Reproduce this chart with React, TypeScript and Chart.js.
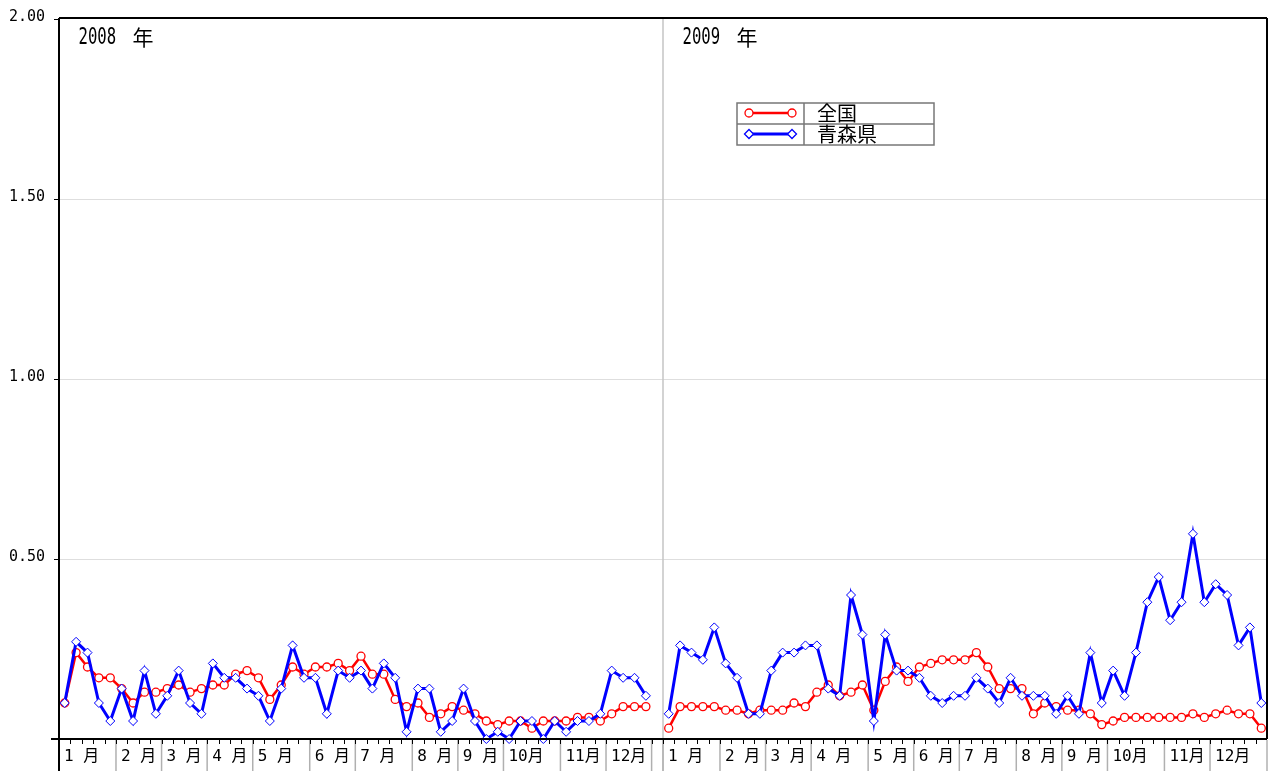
import React, { useEffect, useRef } from "react";
import { Chart, registerables } from "chart.js";

Chart.register(...registerables);

// ---- data ----
const yearLabels = ["2008", "2009"];
const yearSuffix = "年";
const monthLabels = ["1 月", "2 月", "3 月", "4 月", "5 月", "6 月", "7 月", "8 月", "9 月", "10月", "11月", "12月"];
const monthWeeks2008 = [5, 4, 4, 4, 5, 4, 5, 4, 4, 5, 4, 4];
const monthWeeks2009 = [5, 4, 4, 5, 4, 4, 5, 4, 4, 5, 4, 5];
const slotsPerYear = 53;
const yTickValues = [0.5, 1.0, 1.5, 2.0];
const yTickLabels = ["0.50", "1.00", "1.50", "2.00"];
const seriesNames = ["全国", "青森県"];

const national2008 = [
  0.10, 0.24, 0.20, 0.17, 0.17, 0.14, 0.10, 0.13, 0.13, 0.14,
  0.15, 0.13, 0.14, 0.15, 0.15, 0.18, 0.19, 0.17, 0.11, 0.15,
  0.20, 0.18, 0.20, 0.20, 0.21, 0.19, 0.23, 0.18, 0.18, 0.11,
  0.09, 0.10, 0.06, 0.07, 0.09, 0.08, 0.07, 0.05, 0.04, 0.05,
  0.05, 0.03, 0.05, 0.05, 0.05, 0.06, 0.06, 0.05, 0.07, 0.09,
  0.09, 0.09,
];
const aomori2008 = [
  0.10, 0.27, 0.24, 0.10, 0.05, 0.14, 0.05, 0.19, 0.07, 0.12,
  0.19, 0.10, 0.07, 0.21, 0.17, 0.17, 0.14, 0.12, 0.05, 0.14,
  0.26, 0.17, 0.17, 0.07, 0.19, 0.17, 0.19, 0.14, 0.21, 0.17,
  0.02, 0.14, 0.14, 0.02, 0.05, 0.14, 0.05, 0.00, 0.02, 0.00,
  0.05, 0.05, 0.00, 0.05, 0.02, 0.05, 0.05, 0.07, 0.19, 0.17,
  0.17, 0.12,
];
const national2009 = [
  0.03, 0.09, 0.09, 0.09, 0.09, 0.08, 0.08, 0.07, 0.08, 0.08,
  0.08, 0.10, 0.09, 0.13, 0.15, 0.12, 0.13, 0.15, 0.08, 0.16,
  0.20, 0.16, 0.20, 0.21, 0.22, 0.22, 0.22, 0.24, 0.20, 0.14,
  0.14, 0.14, 0.07, 0.10, 0.09, 0.08, 0.08, 0.07, 0.04, 0.05,
  0.06, 0.06, 0.06, 0.06, 0.06, 0.06, 0.07, 0.06, 0.07, 0.08,
  0.07, 0.07, 0.03,
];
const aomori2009 = [
  0.07, 0.26, 0.24, 0.22, 0.31, 0.21, 0.17, 0.07, 0.07, 0.19,
  0.24, 0.24, 0.26, 0.26, 0.14, 0.12, 0.40, 0.29, 0.05, 0.29,
  0.19, 0.19, 0.17, 0.12, 0.10, 0.12, 0.12, 0.17, 0.14, 0.10,
  0.17, 0.12, 0.12, 0.12, 0.07, 0.12, 0.07, 0.24, 0.10, 0.19,
  0.12, 0.24, 0.38, 0.45, 0.33, 0.38, 0.57, 0.38, 0.43, 0.40,
  0.26, 0.31, 0.10,
];

// ---- derived tables ----
function yearSlots<T>(values: T[]): (T | null)[] {
  const out: (T | null)[] = [...values];
  while (out.length < slotsPerYear) out.push(null);
  return out;
}
const categories: string[] = [];
yearLabels.forEach((y) => {
  for (let w = 1; w <= slotsPerYear; w++) categories.push(`${y}-W${w}`);
});
const nationalData = [...yearSlots(national2008), ...yearSlots(national2009)];
const aomoriData = [...yearSlots(aomori2008), ...yearSlots(aomori2009)];

const RED = "#ff0000";
const BLUE = "#0000ff";
const H = 771;

const decorPlugin = {
  id: "decor",
  beforeDatasetsDraw(chart: any) {
    const { ctx, chartArea } = chart;
    const { left, right, top } = chartArea;
    const y = chart.scales.y;
    ctx.save();
    ctx.strokeStyle = "#dedede";
    ctx.lineWidth = 1.2;
    yTickValues.forEach((v) => {
      if (v >= 2) return;
      const py = Math.round(y.getPixelForValue(v)) + 0.5;
      ctx.beginPath();
      ctx.moveTo(left, py);
      ctx.lineTo(right, py);
      ctx.stroke();
    });
    const w = (right - left) / categories.length;
    const sx = left + slotsPerYear * w;
    ctx.strokeStyle = "#c4c4c4";
    ctx.lineWidth = 1.5;
    ctx.beginPath();
    ctx.moveTo(sx, top);
    ctx.lineTo(sx, H);
    ctx.stroke();
    ctx.restore();
  },
  afterDatasetsDraw(chart: any) {
    const { ctx, chartArea } = chart;
    const { left, right, top, bottom } = chartArea;
    const y = chart.scales.y;
    const n = categories.length;
    const w = (right - left) / n;
    ctx.save();

    // month separators and labels
    ctx.strokeStyle = "#b0b0b0";
    ctx.lineWidth = 1.5;
    const monthSets = [monthWeeks2008, monthWeeks2009];
    ctx.fillStyle = "#000";
    ctx.font = '16px "DejaVu Sans Mono", "Noto Sans CJK JP"';
    ctx.textBaseline = "middle";
    ctx.textAlign = "left";
    monthSets.forEach((weeks, yi) => {
      let slot = yi * slotsPerYear;
      weeks.forEach((cnt, mi) => {
        const x0 = left + slot * w;
        if (!(yi === 0 && mi === 0)) {
          ctx.beginPath();
          ctx.moveTo(x0, bottom + 1);
          ctx.lineTo(x0, H);
          ctx.stroke();
        }
        ctx.fillText(monthLabels[mi], x0 + 5, bottom + 17.5);
        slot += cnt;
      });
      const xe = left + slot * w;
      ctx.beginPath();
      ctx.moveTo(xe, bottom + 1);
      ctx.lineTo(xe, H);
      ctx.stroke();
    });

    // week ticks
    ctx.strokeStyle = "#000";
    ctx.lineWidth = 1;
    for (let i = 1; i < n; i++) {
      const x = Math.round(left + i * w) + 0.5;
      ctx.beginPath();
      ctx.moveTo(x, bottom);
      ctx.lineTo(x, bottom + 5);
      ctx.stroke();
    }

    // frame
    ctx.strokeStyle = "#000";
    ctx.lineWidth = 2;
    ctx.beginPath();
    ctx.moveTo(left - 8, bottom);
    ctx.lineTo(right, bottom);
    ctx.stroke();
    ctx.beginPath();
    ctx.moveTo(left, top - 1);
    ctx.lineTo(left, H);
    ctx.stroke();
    ctx.beginPath();
    ctx.moveTo(left, top - 1);
    ctx.lineTo(right, top - 1);
    ctx.stroke();
    ctx.beginPath();
    ctx.moveTo(right, top - 1);
    ctx.lineTo(right, bottom);
    ctx.stroke();

    // y ticks + labels
    ctx.lineWidth = 1;
    ctx.font = '15px "DejaVu Sans Mono"';
    ctx.textAlign = "right";
    ctx.textBaseline = "middle";
    yTickValues.forEach((v, i) => {
      const py = Math.round(y.getPixelForValue(v)) + 0.5;
      ctx.beginPath();
      ctx.moveTo(left - 5, py);
      ctx.lineTo(left, py);
      ctx.stroke();
      ctx.fillText(yTickLabels[i], 45, py - 2);
    });

    // year labels
    yearLabels.forEach((yl, yi) => {
      const x0 = left + yi * slotsPerYear * w + 19.5;
      ctx.save();
      ctx.translate(x0, 38);
      ctx.scale(0.68, 1);
      ctx.font = '23px "DejaVu Sans Mono"';
      ctx.textAlign = "left";
      ctx.textBaseline = "middle";
      ctx.fillText(yl, 0, 0);
      ctx.restore();
      ctx.font = '21px "Noto Sans CJK JP"';
      ctx.textAlign = "left";
      ctx.textBaseline = "middle";
      ctx.fillText(yearSuffix, x0 + 54, 37);
    });

    // legend box
    const lx = 737, ly = 103, lw = 197, lh = 42, div = 804;
    ctx.strokeStyle = "#777";
    ctx.lineWidth = 1.5;
    ctx.strokeRect(lx, ly, lw, lh);
    ctx.beginPath();
    ctx.moveTo(lx, ly + lh / 2);
    ctx.lineTo(lx + lw, ly + lh / 2);
    ctx.moveTo(div, ly);
    ctx.lineTo(div, ly + lh);
    ctx.stroke();
    const rows = [
      { color: RED, style: "circle", width: 2.5, cy: 113 },
      { color: BLUE, style: "rectRot", width: 3, cy: 134 },
    ];
    rows.forEach((r, i) => {
      ctx.strokeStyle = r.color;
      ctx.lineWidth = r.width;
      ctx.beginPath();
      ctx.moveTo(749, r.cy);
      ctx.lineTo(792, r.cy);
      ctx.stroke();
      [749, 792].forEach((px) => {
        ctx.lineWidth = 1.3;
        ctx.fillStyle = "#fff";
        ctx.strokeStyle = r.color;
        ctx.beginPath();
        if (r.style === "circle") {
          ctx.arc(px, r.cy, 4, 0, Math.PI * 2);
        } else {
          ctx.moveTo(px, r.cy - 4.5);
          ctx.lineTo(px + 4.5, r.cy);
          ctx.lineTo(px, r.cy + 4.5);
          ctx.lineTo(px - 4.5, r.cy);
          ctx.closePath();
        }
        ctx.fill();
        ctx.stroke();
      });
      ctx.fillStyle = "#000";
      ctx.font = '20px "Noto Sans CJK JP"';
      ctx.textAlign = "left";
      ctx.textBaseline = "middle";
      ctx.fillText(seriesNames[i], 817, r.cy);
    });

    ctx.restore();
  },
};

export default function App() {
  const ref = useRef<HTMLCanvasElement | null>(null);
  useEffect(() => {
    document.documentElement.style.overflow = "hidden";
    document.body.style.margin = "0";
    document.body.style.overflow = "hidden";
    if (!ref.current) return;
    const chart = new Chart(ref.current, {
      type: "line",
      data: {
        labels: categories,
        datasets: [
          {
            label: seriesNames[0],
            data: nationalData,
            borderColor: RED,
            borderWidth: 2.5,
            pointStyle: "circle",
            pointRadius: 4,
            pointBorderWidth: 1.3,
            pointBorderColor: RED,
            pointBackgroundColor: "#fff",
            tension: 0,
            spanGaps: false,
            clip: 10,
            order: 2,
          },
          {
            label: seriesNames[1],
            data: aomoriData,
            borderColor: BLUE,
            borderWidth: 3,
            pointStyle: "rectRot",
            pointRadius: 4.5,
            pointBorderWidth: 1,
            pointBorderColor: BLUE,
            pointBackgroundColor: "#fff",
            tension: 0,
            spanGaps: false,
            clip: 10,
            order: 1,
          },
        ],
      },
      options: {
        responsive: false,
        animation: false,
        devicePixelRatio: 1,
        layout: { autoPadding: false, padding: { left: 59, right: 1, top: 19, bottom: 32 } },
        scales: {
          x: { type: "category", display: false, offset: true },
          y: { display: false, min: 0, max: 2 },
        },
        plugins: {
          legend: { display: false },
          tooltip: { enabled: false },
        },
      },
      plugins: [decorPlugin],
    } as any);
    return () => chart.destroy();
  }, []);
  return (
    <div
      style={{
        position: "fixed",
        left: 0,
        top: 0,
        width: 1268,
        height: H,
        overflow: "hidden",
        background: "#fff",
      }}
    >
      <canvas ref={ref} width={1268} height={H} style={{ display: "block", width: 1268, height: H }} />
    </div>
  );
}
